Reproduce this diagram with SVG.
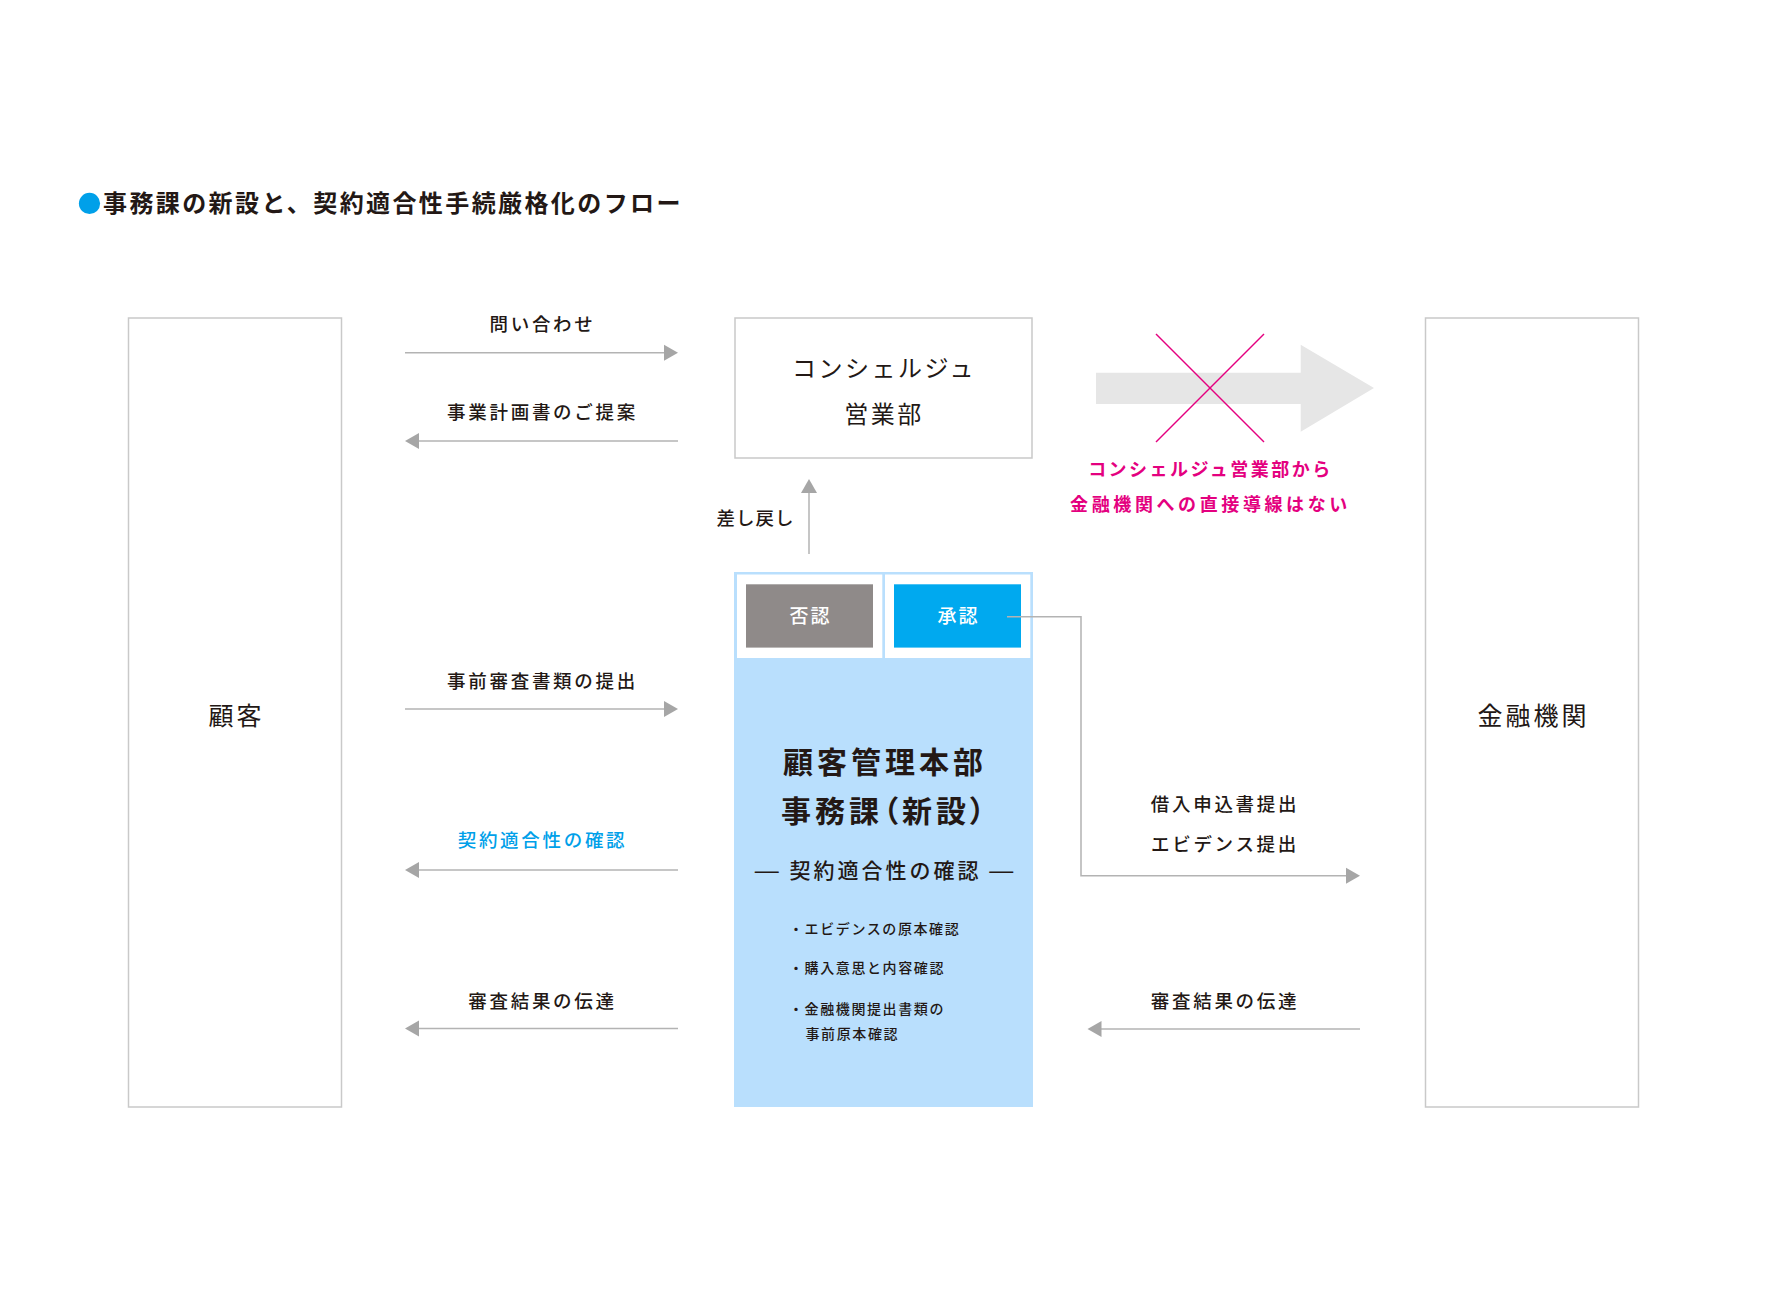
<svg xmlns="http://www.w3.org/2000/svg" width="1770" height="1296" viewBox="0 0 1770 1296">
  <style>
    text { font-family: "Noto Sans CJK JP", "Noto Sans", sans-serif; fill: #231815; }
    .title { font-size: 24px; font-weight: 700; letter-spacing: 2.4px; }
    .box { fill: #ffffff; stroke: #c9c9c9; stroke-width: 1.5; }
    .name { font-size: 25px; font-weight: 400; letter-spacing: 3px; text-anchor: middle; }
    .lbl { font-size: 18.5px; font-weight: 500; letter-spacing: 2.7px; text-anchor: middle; }
    .blue { fill: #00a0e9; }
    .pink { font-size: 18px; font-weight: 700; letter-spacing: 2.5px; text-anchor: middle; fill: #e4007f; }
    .line { fill: none; stroke: #b3b3b3; stroke-width: 1.5; }
    .head { fill: #a6a6a6; }
    .btn { font-size: 19px; font-weight: 500; letter-spacing: 2px; text-anchor: middle; fill: #ffffff; }
    .ptitle { font-size: 30px; font-weight: 700; letter-spacing: 4px; text-anchor: middle; }
    .sub { font-size: 21px; font-weight: 500; letter-spacing: 3px; text-anchor: middle; }
    .dash { font-family: "Liberation Sans", sans-serif; font-size: 24px; font-weight: 400; }
    .item { font-size: 14px; font-weight: 500; letter-spacing: 1.6px; }
  </style>

  <rect width="1770" height="1296" fill="#ffffff"/>

  <g id="title">
    <circle cx="89.5" cy="203.4" r="10.6" fill="#00a0e9"/>
    <text class="title" x="103" y="212">事務課の新設と、契約適合性手続厳格化のフロー</text>
  </g>

  <g id="customer">
    <rect class="box" x="128.5" y="318" width="213" height="789"/>
    <text class="name" x="236.5" y="725">顧客</text>
  </g>

  <g id="bank">
    <rect class="box" x="1425.5" y="318" width="213" height="789"/>
    <text class="name" x="1533.5" y="725">金融機関</text>
  </g>

  <g id="concierge">
    <rect class="box" x="735" y="318" width="297" height="140"/>
    <text class="name" x="884" y="377" style="font-size:24px;letter-spacing:2.5px">コンシェルジュ</text>
    <text class="name" x="884" y="423" style="font-size:24px;letter-spacing:2.5px">営業部</text>
  </g>

  <g id="office">
    <rect x="734" y="572" width="299" height="535" fill="#b9dffd"/>
    <rect x="737" y="574.5" width="145.3" height="83.5" fill="#ffffff"/>
    <rect x="885" y="574.5" width="145.3" height="83.5" fill="#ffffff"/>
    <g id="reject">
      <rect x="746" y="584.3" width="127" height="63.3" fill="#8f8a89"/>
      <text class="btn" x="810.5" y="623">否認</text>
    </g>
    <g id="approve">
      <rect x="894" y="584.3" width="127" height="63.3" fill="#00a9ef"/>
      <text class="btn" x="958.5" y="623">承認</text>
    </g>
    <text class="ptitle" x="885" y="773">顧客管理本部</text>
    <text class="ptitle" x="885" y="822" style="font-feature-settings:'palt' 1">事務課（新設）</text>
    <text class="sub" x="885.5" y="878"><tspan class="dash">—</tspan> 契約適合性の確認 <tspan class="dash">—</tspan></text>
    <text class="item" x="789" y="933.5">・エビデンスの原本確認</text>
    <text class="item" x="789" y="972.5">・購入意思と内容確認</text>
    <text class="item" x="789" y="1013.5">・金融機関提出書類の</text>
    <text class="item" x="805.5" y="1038.5">事前原本確認</text>
  </g>

  <g id="blocked">
    <polygon points="1096,372.7 1300.7,372.7 1300.7,344.7 1374,388 1300.7,431.7 1300.7,404 1096,404" fill="#e6e6e6"/>
    <line x1="1156" y1="334" x2="1264" y2="442" stroke="#e4007f" stroke-width="1.5"/>
    <line x1="1264" y1="334" x2="1156" y2="442" stroke="#e4007f" stroke-width="1.5"/>
    <text class="pink" x="1210.5" y="476">コンシェルジュ営業部から</text>
    <text class="pink" x="1210.5" y="511" style="letter-spacing:3.6px">金融機関への直接導線はない</text>
  </g>

  <g id="connectors">
    <g id="c1">
      <line class="line" x1="405" y1="352.7" x2="665" y2="352.7"/>
      <polygon class="head" points="664,344.7 678,352.7 664,360.7"/>
      <text class="lbl" x="542.5" y="330.5">問い合わせ</text>
    </g>
    <g id="c2">
      <line class="line" x1="418" y1="441" x2="678" y2="441"/>
      <polygon class="head" points="405,441 419,433 419,449"/>
      <text class="lbl" x="542.5" y="418.5">事業計画書のご提案</text>
    </g>
    <g id="c3">
      <line class="line" x1="405" y1="709" x2="665" y2="709"/>
      <polygon class="head" points="664,701 678,709 664,717"/>
      <text class="lbl" x="542.5" y="688">事前審査書類の提出</text>
    </g>
    <g id="c4">
      <line class="line" x1="418" y1="870" x2="678" y2="870"/>
      <polygon class="head" points="405,870 419,862 419,878"/>
      <text class="lbl blue" x="542.5" y="847">契約適合性の確認</text>
    </g>
    <g id="c5">
      <line class="line" x1="418" y1="1028.5" x2="678" y2="1028.5"/>
      <polygon class="head" points="405,1028.5 419,1020.5 419,1036.5"/>
      <text class="lbl" x="542.5" y="1008">審査結果の伝達</text>
    </g>
    <g id="c6">
      <line class="line" x1="809" y1="554" x2="809" y2="492"/>
      <polygon class="head" points="801,493 809,479 817,493"/>
      <text class="lbl" x="755.5" y="525" style="letter-spacing:1px">差し戻し</text>
    </g>
    <g id="c7">
      <polyline class="line" points="1007,616.7 1081,616.7 1081,875.7 1347,875.7"/>
      <polygon class="head" points="1346,867.7 1360,875.7 1346,883.7"/>
      <text class="lbl" x="1225" y="811">借入申込書提出</text>
      <text class="lbl" x="1225" y="850.5">エビデンス提出</text>
    </g>
    <g id="c8">
      <line class="line" x1="1100" y1="1029" x2="1360" y2="1029"/>
      <polygon class="head" points="1087.5,1029 1101.5,1021 1101.5,1037"/>
      <text class="lbl" x="1225" y="1007.5">審査結果の伝達</text>
    </g>
  </g>
</svg>
